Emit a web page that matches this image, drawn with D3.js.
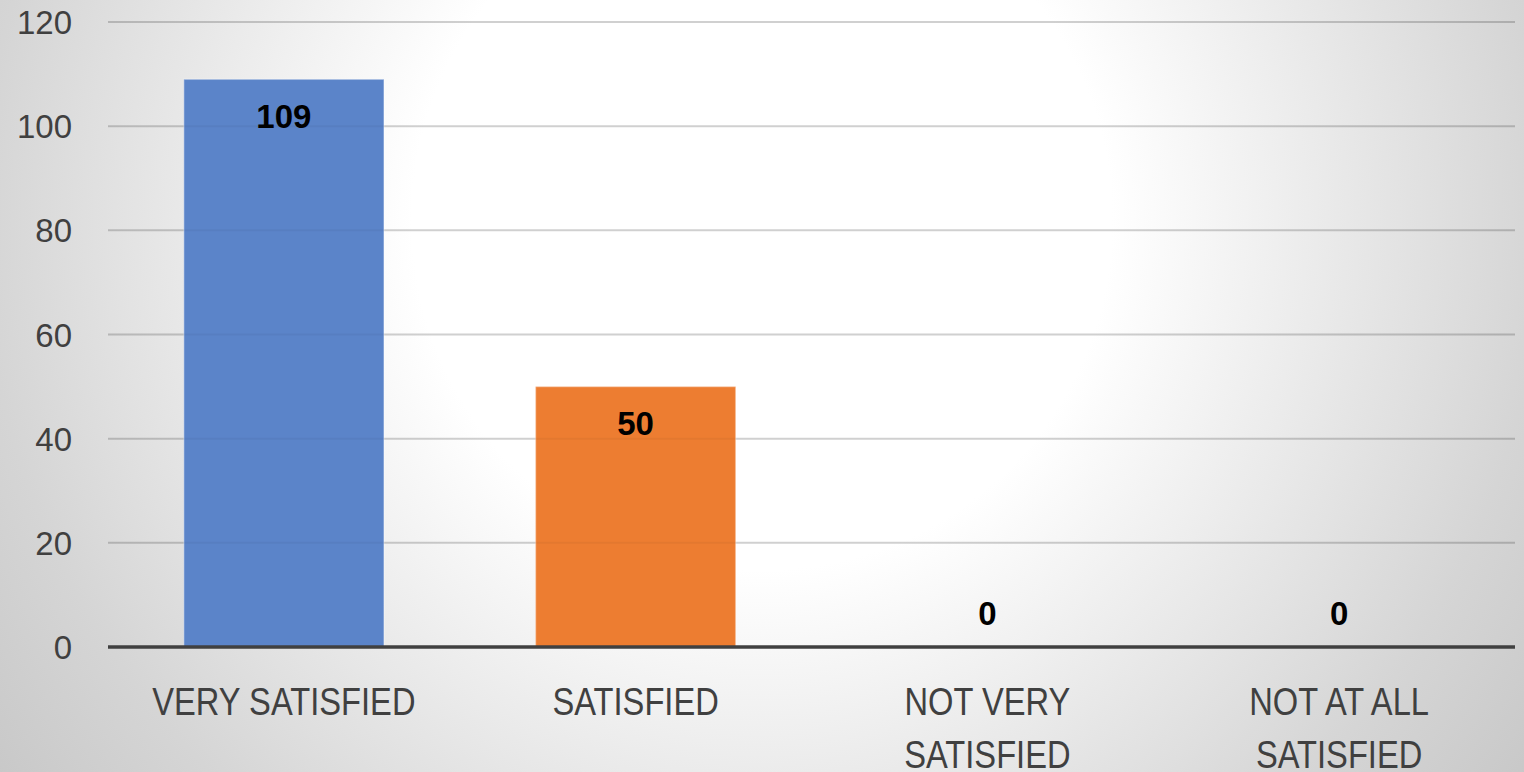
<!DOCTYPE html>
<html>
<head>
<meta charset="utf-8">
<script src="https://cdn.jsdelivr.net/npm/d3@7"></script>
<style>
  html, body { margin: 0; padding: 0; overflow: hidden; }
  svg { display: block; }
</style>
</head>
<body>
<svg id="chart" width="1524" height="772"></svg>
<script>
const categories = ["VERY SATISFIED", "SATISFIED", "NOT VERY SATISFIED", "NOT AT ALL SATISFIED"];
const categoryLines = [["VERY SATISFIED"], ["SATISFIED"], ["NOT VERY", "SATISFIED"], ["NOT AT ALL", "SATISFIED"]];
const values = [109, 50, 0, 0];
const barColors = ["#5B84C9", "#ED7D31", "#A5A5A5", "#FFC000"];
const yTicks = [0, 20, 40, 60, 80, 100, 120];

(function () {
const W = 1524, H = 772;
const FONT = "'Liberation Sans', Arial, sans-serif";
const svg = d3.select("#chart");

// background radial gradient
const defs = svg.append("defs");
const rg = defs.append("radialGradient").attr("id", "bg")
  .attr("gradientUnits", "userSpaceOnUse")
  .attr("cx", 762).attr("cy", 220).attr("r", 1000);
rg.append("stop").attr("offset", 0).attr("stop-color", "#ffffff");
rg.append("stop").attr("offset", 0.35).attr("stop-color", "#ffffff");
rg.append("stop").attr("offset", 0.78).attr("stop-color", "#d5d5d5");
rg.append("stop").attr("offset", 1).attr("stop-color", "#c4c4c4");
svg.append("rect").attr("width", W).attr("height", H).attr("fill", "url(#bg)");

const mLeft = 108, mRight = 1515, mTop = 22, mBottom = 647;

const x = d3.scaleBand().domain(categories).range([mLeft, mRight])
  .paddingInner(0.431).paddingOuter(0.2155);
const y = d3.scaleLinear().domain([0, 120]).range([mBottom, mTop]);

// gridlines
const grid = svg.append("g");
grid.selectAll("line").data(yTicks.filter(t => t > 0)).join("line")
  .attr("x1", mLeft).attr("x2", mRight)
  .attr("y1", d => y(d)).attr("y2", d => y(d))
  .attr("stroke", "#000").attr("stroke-opacity", 0.15).attr("stroke-width", 2);

// y axis labels
const yAxis = d3.axisLeft(y).tickValues(yTicks).tickSize(0).tickPadding(0);
const yg = svg.append("g").attr("transform", `translate(72,0)`).call(yAxis);
yg.select(".domain").remove();
yg.selectAll("text")
  .attr("font-family", FONT).attr("font-size", 33).attr("fill", "#404040")
  .attr("dy", "0.35em");

// bars
svg.append("g").selectAll("rect").data(values).join("rect")
  .attr("x", (d, i) => x(categories[i]))
  .attr("width", x.bandwidth())
  .attr("y", d => y(d))
  .attr("height", d => y(0) - y(d))
  .attr("fill", (d, i) => barColors[i])
  .attr("stroke", "#ffffff").attr("stroke-opacity", 0.3).attr("stroke-width", 1.5);

// faint gridline showing through bars
svg.append("g").selectAll("line").data(yTicks.filter(t => t > 0)).join("line")
  .attr("x1", mLeft).attr("x2", mRight)
  .attr("y1", d => y(d)).attr("y2", d => y(d))
  .attr("stroke", "#000").attr("stroke-opacity", 0.04).attr("stroke-width", 2);

// x axis line
svg.append("line")
  .attr("x1", mLeft).attr("x2", mRight)
  .attr("y1", y(0)).attr("y2", y(0))
  .attr("stroke", "#404040").attr("stroke-width", 3.5);

// data labels
svg.append("g").selectAll("text").data(values).join("text")
  .attr("x", (d, i) => x(categories[i]) + x.bandwidth() / 2)
  .attr("y", d => d > 0 ? y(d) + 37 : y(0) - 34)
  .attr("dy", "0.35em")
  .attr("text-anchor", "middle")
  .attr("font-family", FONT).attr("font-size", 33).attr("font-weight", "bold")
  .attr("fill", "#000")
  .text(d => d);

// category labels (horizontally condensed to mimic a narrow face)
const cg = svg.append("g");
categoryLines.forEach((lines, i) => {
  const cx = x(categories[i]) + x.bandwidth() / 2;
  const t = cg.append("text")
    .attr("transform", `translate(${cx},0) scale(0.86,1)`)
    .attr("text-anchor", "middle")
    .attr("font-family", FONT).attr("font-size", 38).attr("fill", "#404040");
  lines.forEach((ln, j) => {
    t.append("tspan").attr("x", 0).attr("y", 715 + j * 53).text(ln);
  });
});
})();
</script>
</body>
</html>
